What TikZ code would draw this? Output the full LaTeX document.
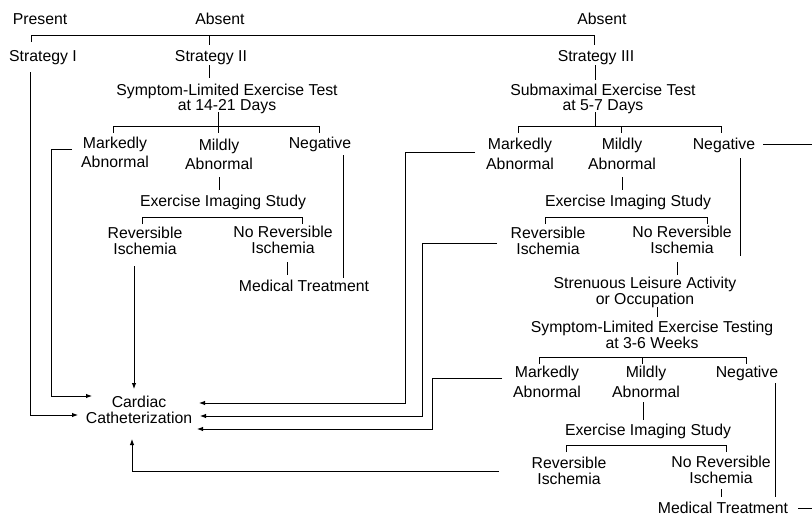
\documentclass[tikz,border=0pt]{standalone}
\usepackage{fontspec}
\setmainfont{Liberation Sans}
\usetikzlibrary{arrows.meta}
\newcommand\lblfont[1]{\fontsize{15.8}{#1}\selectfont\lineskiplimit=-100pt\lineskip=0pt}
\tikzset{
  lbl/.style={inner sep=0pt, align=center, font=\lblfont{#1},
    execute at begin node={\rule{0pt}{11.5pt}},
    execute at end node={\rule[-3.3pt]{0pt}{3.3pt}}},
  lbl/.default=16,
  ln/.style={line width=0.9pt},
  arr/.style={ln, -{Latex[length=6pt,width=4.5pt]}},
}
\begin{document}
\begin{tikzpicture}[x=1pt,y=-1pt]
\useasboundingbox (0,0) rectangle (812,517);
% labels
\node[lbl] (present) at (40,20.5) {Present};
\node[lbl] (absA) at (220,20.5) {Absent};
\node[lbl] (absB) at (602,20.5) {Absent};
\node[lbl] (s1) at (43,57.5) {Strategy I};
\node[lbl] (s2) at (211,57.5) {Strategy II};
\node[lbl] (s3) at (596,57.5) {Strategy III};
\node[lbl=15.5] (t2) at (227,99) {Symptom-Limited Exercise Test\\at 14-21 Days};
\node[lbl=15.5] (t3) at (603,99) {Submaximal Exercise Test\\at 5-7 Days};
\node[lbl=19] (m2) at (115,154) {Markedly\\Abnormal};
\node[lbl=19] (mi2) at (219,156) {Mildly\\Abnormal};
\node[lbl] (n2) at (320,144.5) {Negative};
\node[lbl] (e2) at (223,202.5) {Exercise Imaging Study};
\node[lbl] (r2) at (145,242.5) {Reversible\\Ischemia};
\node[lbl] (nr2) at (283,241.5) {No Reversible\\Ischemia};
\node[lbl] (mt2) at (304,287.5) {Medical Treatment};
\node[lbl] (cath) at (139,411.5) {Cardiac\\Catheterization};
\node[lbl=20] (m3) at (520,155.5) {Markedly\\Abnormal};
\node[lbl=20] (mi3) at (622,155.5) {Mildly\\Abnormal};
\node[lbl] (n3) at (724,145.5) {Negative};
\node[lbl] (e3) at (628,202.5) {Exercise Imaging Study};
\node[lbl] (r3) at (548,242.5) {Reversible\\Ischemia};
\node[lbl] (nr3) at (682,241.5) {No Reversible\\Ischemia};
\node[lbl] (sl) at (645,292.5) {Strenuous Leisure Activity\\or Occupation};
\node[lbl] (t4) at (652,336.5) {Symptom-Limited Exercise Testing\\at 3-6 Weeks};
\node[lbl=20] (m4) at (547,383.5) {Markedly\\Abnormal};
\node[lbl=20] (mi4) at (646,383.5) {Mildly\\Abnormal};
\node[lbl] (n4) at (747,373.5) {Negative};
\node[lbl] (e4) at (648,431.5) {Exercise Imaging Study};
\node[lbl] (r4) at (569,472.5) {Reversible\\Ischemia};
\node[lbl] (nr4) at (721,471.5) {No Reversible\\Ischemia};
\node[lbl] (mt4) at (723,509.5) {Medical Treatment};
% connectors
\draw[ln] (31,42) -- (31,35) -- (594,35) -- (594,45);
\draw[ln] (209,35) -- (209,45);
\draw[arr] (30,72) -- (30,415) -- (78,415);
\draw[ln] (209,65) -- (209,78);
\draw[ln] (595,65) -- (595,80);
\draw[ln] (218,112) -- (218,133);
\draw[ln] (113,133) -- (113,126) -- (319,126) -- (319,133);
\draw[ln] (595,112) -- (595,126);
\draw[ln] (518,133) -- (518,126) -- (721,126) -- (721,133);
\draw[ln] (621,126) -- (621,133);
\draw[ln] (219,177) -- (219,190);
\draw[ln] (142,224) -- (142,217) -- (302,217) -- (302,224);
\draw[ln] (287,262) -- (287,275);
\draw[ln] (343,155) -- (343,278);
\draw[arr] (134,266) -- (134,389);
\draw[arr] (72,149) -- (51,149) -- (51,396) -- (92,396);
\draw[arr] (475,152) -- (405,152) -- (405,403) -- (199,403);
\draw[arr] (497,243) -- (422,243) -- (422,416) -- (200,416);
\draw[arr] (502,378) -- (432,378) -- (432,429) -- (197,429);
\draw[arr] (499,471) -- (132,471) -- (132,439);
\draw[ln] (763,144) -- (812,144);
\draw[ln] (740,158) -- (740,256);
\draw[ln] (622,177) -- (622,190);
\draw[ln] (545,224) -- (545,217) -- (707,217) -- (707,224);
\draw[ln] (677,262) -- (677,275);
\draw[ln] (657,307) -- (657,317);
\draw[ln] (539,364) -- (539,357) -- (746,357) -- (746,364);
\draw[ln] (642,357) -- (642,364);
\draw[ln] (643,402) -- (643,420);
\draw[ln] (566,452) -- (566,445) -- (726,445) -- (726,452);
\draw[ln] (721,489) -- (721,497);
\draw[ln] (775,383) -- (775,497);
\draw[ln] (798,508) -- (812,508);
\end{tikzpicture}
\end{document}
